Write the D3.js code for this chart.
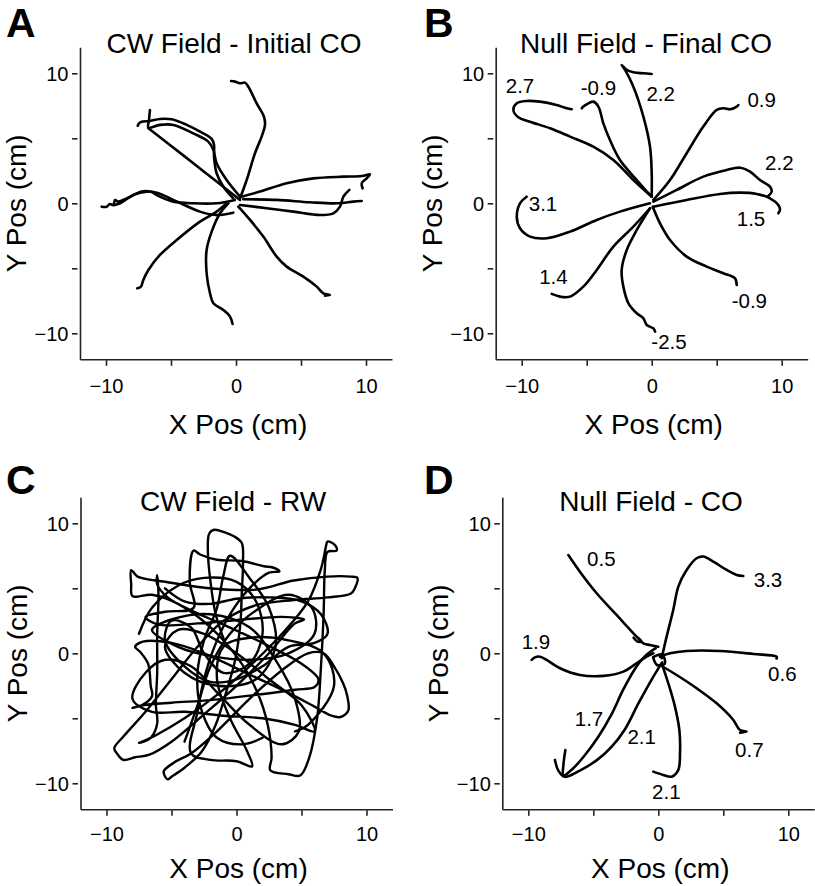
<!DOCTYPE html>
<html><head><meta charset="utf-8">
<script src="https://cdn.jsdelivr.net/npm/d3@7"></script>
<style>
body{margin:0;background:#fff}
svg text{font-family:"Liberation Sans",Arial,Helvetica,sans-serif;fill:#000}
</style>
</head><body>
<svg id="chart" width="815" height="886"></svg>
<script>
// ---------- DATA (cm) ----------
const tickValues = [-10, -5, 0, 5, 10];
const tickText = {"-10": "\u221210", "0": "0", "10": "10"};
const axisDomain = [-12, 12];

const panelLetters = ["A", "B", "C", "D"];
const panelTitles = ["CW Field - Initial CO", "Null Field - Final CO", "CW Field - RW", "Null Field - CO"];

// Panel A: CW field, initial center-out
const trajA = [
 [[0.31,0.38],[0.82,1.79],[1.46,3.85],[1.97,5.13],[2.23,6.03],[2.15,6.67],[1.59,7.69],[0.95,8.97],[0.69,9.28],[0.31,9.23],[-0.08,9.36],[-0.38,9.41]],
 [[-0.21,0.38],[-0.97,1.28],[-1.49,2.31],[-1.69,3.59],[-1.69,4.49],[-1.87,4.95],[-2.77,5.51],[-3.79,6.03],[-4.95,6.46],[-5.85,6.49],[-6.62,6.33],[-7.26,6.28],[-7.46,6.15],[-7.56,5.97]],
 [[0.31,0.51],[-0.72,1.79],[-1.49,3.08],[-1.74,4.10],[-2.13,4.74],[-3.28,5.38],[-4.82,6.03],[-5.85,6.03],[-6.74,5.82],[-6.69,6.41],[-6.62,7.18]],
 [[0.31,0.26],[-1.49,1.67],[-3.28,3.08],[-5.08,4.49],[-6.74,5.77]],
 [[-0.08,0.26],[-1.49,0.0],[-3.28,0.0],[-4.82,0.13],[-5.85,0.51],[-6.62,0.9],[-7.26,0.9],[-8.41,0.38],[-9.05,0.13],[-9.3,0.25],[-9.44,-0.13],[-9.7,-0.05],[-9.95,-0.26],[-10.33,-0.26]],
 [[-0.21,-0.72],[-1.49,-0.9],[-2.77,-0.64],[-4.82,0.26],[-6.1,0.82],[-6.87,0.9],[-7.9,0.64],[-8.92,0.0],[-9.4,-0.15]],
 [[-0.72,0.0],[-1.49,-0.64],[-2.77,-1.41],[-4.56,-2.82],[-5.85,-3.97],[-6.74,-5.13],[-7.13,-5.9],[-7.31,-6.41],[-7.59,-6.54]],
 [[-0.59,0.0],[-1.23,-0.77],[-1.87,-2.18],[-2.26,-3.59],[-2.26,-5.38],[-2.0,-6.92],[-1.74,-7.69],[-0.97,-8.21],[-0.46,-8.72],[-0.26,-9.28]],
 [[0.18,-0.26],[1.08,-1.28],[2.1,-2.56],[3.13,-4.1],[3.9,-4.87],[5.18,-5.64],[6.21,-6.41],[6.72,-6.92],[7.23,-7.05],[6.85,-7.1]],
 [[0.44,0.51],[1.85,0.9],[3.9,1.54],[5.95,1.92],[8.26,2.05],[9.67,2.1],[10.31,2.23],[10.05,1.92],[9.67,1.54],[9.74,1.15]],
 [[0.56,0.31],[3.13,0.26],[5.69,0.08],[7.74,0.0],[9.03,0.13],[9.67,0.18]],
 [[0.31,-0.13],[2.36,-0.38],[4.41,-0.64],[6.46,-0.9],[7.49,-0.77],[8.0,-0.26],[8.26,0.51],[8.72,1.03]]
];

// Panel B: Null field, final center-out
const trajB = [
 [[0,0.51],[-1.41,1.79],[-2.95,3.33],[-4.49,4.36],[-6.28,5.13],[-7.82,5.77],[-9.36,6.28],[-10.26,6.62],[-10.64,7.18],[-10.38,7.69],[-9.62,7.87],[-8.59,7.82],[-7.31,7.56],[-6.54,7.31],[-6.15,7.23]],
 [[-0.13,0.64],[-1.15,1.79],[-2.44,3.33],[-3.21,4.87],[-3.72,6.15],[-4.1,7.44],[-4.49,7.82],[-4.87,7.69],[-5.26,7.44],[-5.38,7.31]],
 [[0,0.51],[0,2.31],[-0.13,4.36],[-0.64,6.67],[-1.41,8.97],[-2.05,10.26],[-2.31,10.64],[-1.92,10.26],[-1.41,10.08],[-0.64,10.0],[0,9.95]],
 [[0.13,0.26],[1.41,1.79],[2.69,3.85],[3.97,5.9],[5.0,7.18],[5.51,7.31],[6.03,7.23],[6.54,7.44],[6.67,7.56]],
 [[0.13,0.13],[1.92,1.03],[3.97,2.05],[5.77,2.56],[6.79,2.74],[7.56,2.44],[8.33,1.79],[9.1,1.28],[9.23,0.9],[8.97,0.56]],
 [[0.13,-0.26],[2.69,0.26],[5.26,0.72],[6.79,0.82],[8.08,0.72],[9.1,0.38],[9.74,-0.13],[9.87,-0.51],[9.74,-0.77]],
 [[0.08,-0.26],[0.64,-1.54],[1.41,-2.82],[2.69,-4.1],[4.23,-4.87],[5.51,-5.38],[6.41,-5.77],[6.54,-6.28]],
 [[-0.13,-0.38],[-1.15,-2.05],[-1.92,-3.59],[-2.31,-5.13],[-2.18,-6.41],[-1.79,-7.69],[-1.15,-8.46],[-0.64,-8.85],[-0.38,-9.36],[0.13,-9.62],[0.26,-9.87]],
 [[-0.13,-0.38],[-1.41,-1.79],[-2.95,-3.33],[-4.23,-5.13],[-5.26,-6.41],[-6.28,-7.18],[-7.05,-7.18],[-7.69,-6.97]],
 [[-0.13,0],[-2.44,-0.64],[-4.23,-1.28],[-6.28,-2.18],[-8.08,-2.69],[-9.36,-2.56],[-10.13,-1.92],[-10.38,-1.03],[-10.13,0],[-9.62,0.51]]
];
const labelsB = [
 {t:"2.7", x:-10.13, y:9.05}, {t:"-0.9", x:-4.1, y:8.92}, {t:"2.2", x:0.69, y:8.46},
 {t:"0.9", x:8.46, y:8.0}, {t:"2.2", x:9.82, y:3.13}, {t:"1.5", x:7.64, y:-1.21},
 {t:"-0.9", x:7.51, y:-7.51}, {t:"-2.5", x:1.33, y:-10.64}, {t:"1.4", x:-7.56, y:-5.64},
 {t:"3.1", x:-8.36, y:-0.05}
];

// Panel C: CW field, random walk
const trajC = [
 [[-0.8,0.6],[-1.6,3.0],[-2.0,5.5],[-2.2,7.8],[-2.1,9.2],[-1.7,9.5],[-0.9,9.3],[-0.2,9.0],[0.4,8.5],[0.5,7.0],[0.4,4.5],[0.3,2.3],[-0.1,-0.5],[-0.8,-3.0],[-1.6,-5.5],[-2.7,-7.6],[-4.0,-8.8],[-5.0,-9.5],[-5.3,-9.7],[-5.6,-9.1],[-4.8,-8.4],[-3.5,-7.7],[-1.5,-6.0],[1.0,-3.5],[3.5,-1.3],[5.5,0.0],[6.7,0.0],[7.5,-1.0],[8.2,-2.3],[8.5,-3.2],[8.6,-4.4],[8.0,-4.9],[7.3,-4.8],[6.0,-4.1],[3.5,-2.8],[0.5,-1.4],[-2.5,0.0],[-5.0,0.8],[-7.2,0.9],[-7.8,0.5],[-7.4,0.1],[-6.8,-0.8],[-6.6,-2.5],[-6.5,-3.3],[-7.3,-4.0],[-8.0,-4.2],[-7.2,-4.0],[-5.0,-3.8],[-2.0,-3.6],[1.5,-3.2],[4.5,-2.8],[6.0,-2.6],[6.3,-2.0],[5.0,-0.8],[2.0,0.8],[-1.0,2.2],[-3.5,3.3],[-5.3,4.3],[-6.1,5.3],[-6.1,6.0],[-6.0,4.5],[-6.1,1.5],[-6.1,-1.5],[-6.2,-4.0],[-6.1,-5.4],[-6.6,-6.5],[-7.5,-6.9],[-6.2,-6.3],[-4.0,-5.0],[-1.5,-3.2],[1.0,-1.0],[3.5,1.5],[5.5,4.0],[6.5,6.5],[6.9,8.3],[7.0,8.6],[7.6,8.3],[7.7,7.9],[7.0,7.8],[6.8,6.5],[6.7,3.0],[6.5,-1.0],[6.2,-5.0],[5.6,-8.0],[4.9,-9.4],[4.0,-9.3],[2.6,-9.0],[2.7,-8.0],[2.4,-5.5],[1.6,-3.0],[0.2,-0.5],[-2.0,2.0],[-4.5,3.8],[-6.5,4.5],[-8.0,4.4],[-8.1,5.3],[-8.1,6.4],[-7.6,5.9],[-5.5,5.5],[-2.0,5.0],[1.5,4.9],[4.4,5.6],[7.0,5.9],[8.8,5.9],[9.3,5.8],[9.1,5.0],[8.8,4.6],[7.0,4.3],[4.4,4.1],[1.5,3.7],[-1.0,2.5],[-3.0,0.5],[-5.0,-2.0],[-7.0,-4.5],[-8.7,-6.4],[-9.4,-7.3],[-9.2,-7.7],[-8.7,-8.2],[-7.8,-8.0],[-6.7,-7.8],[-5.0,-6.8],[-2.5,-4.7],[0.0,-2.5],[2.5,0.0],[4.5,2.3],[5.2,2.6],[3.5,2.8],[0.5,2.6],[-3.0,2.3],[-6.0,2.2],[-7.0,2.8],[-5.5,3.2],[-3.3,3.5],[-3.6,5.5],[-3.3,7.9],[-2.8,7.6],[-1.5,7.2],[0.4,7.1],[2.1,6.7],[2.8,6.6],[3.3,6.3],[2.5,6.2],[1.0,5.0],[-0.5,3.0],[-1.7,0.5],[-2.5,-2.0],[-3.0,-4.5],[-3.5,-7.7],[-2.0,-8.2],[0.0,-8.3],[1.2,-8.7],[0.8,-7.5],[-0.5,-5.0],[-1.5,-2.0],[-1.0,0.5],[1.0,1.2],[4.0,1.0],[6.7,0.0],[7.5,-2.5],[5.5,-5.5],[4.5,-6.0]],
 [[-4.0,-6.8],[-3.0,-4.0],[-2.0,-1.0],[-0.5,1.5],[1.5,3.3],[4.0,4.5],[5.8,3.5],[6.0,1.5],[4.0,0.0],[1.0,-0.5],[-2.0,-0.2],[-4.5,0.5],[-6.5,1.8],[-5.0,2.6],[-2.0,3.0],[1.0,2.0],[3.0,-0.5],[4.5,-3.5],[4.8,-6.0],[3.5,-7.0],[1.0,-5.5],[-1.5,-3.0],[-3.5,-1.0],[-5.5,-0.5],[-7.0,-1.5],[-8.0,-3.5],[-6.5,-4.5],[-4.0,-4.5],[-1.0,-4.8],[2.0,-5.0],[4.5,-5.5],[6.0,-6.0],[5.0,-4.0],[2.5,-2.0],[0.0,0.0],[-2.5,1.5],[-4.5,1.8],[-5.5,0.5],[-4.0,-1.5],[-1.5,-2.5],[1.5,-2.0],[3.0,0.5],[2.5,3.5],[1.0,5.8],[-0.5,7.5],[-1.0,6.0],[-1.5,3.5],[-2.5,1.0],[-3.0,-1.5],[-2.8,-4.0],[-1.5,-6.5],[0.5,-7.0],[2.0,-6.5]],
 [[-5.5,5.0],[-4.0,4.0],[-2.0,3.8],[0.0,4.2],[2.5,4.3],[5.0,4.0],[6.5,3.0],[7.0,1.5],[6.0,0.8],[4.0,0.5],[2.0,-1.0],[0.0,-2.0],[-2.0,-2.2],[-4.0,-1.0],[-5.5,1.0],[-5.0,2.5],[-3.5,2.0],[-2.5,0.0],[-1.0,-1.5],[1.0,-0.8],[2.0,1.5],[1.5,4.0],[0.0,5.5],[-2.5,5.8],[-4.5,5.2],[-6.5,3.5],[-7.5,1.5]]
];

// Panel D: Null field, center-out
const trajD = [
 [[0,0.51],[-0.64,0.64],[-1.15,0.77],[-1.67,1.28],[-3.21,2.95],[-4.74,4.62],[-6.03,6.28],[-6.92,7.56]],
 [[-1.9,1.2],[-1.6,0.9],[-1.3,0.9],[-1.5,1.15]],
 [[0.26,-0.38],[0.64,1.28],[1.15,3.33],[1.54,5.13],[2.18,6.41],[2.95,7.31],[3.46,7.44],[4.23,7.05],[5.26,6.41],[6.03,6.03],[6.54,5.95]],
 [[-0.38,0],[-0.9,-0.26],[-1.67,-0.77],[-2.69,-1.41],[-4.23,-1.74],[-6.03,-1.67],[-7.56,-1.15],[-8.59,-0.51],[-9.1,-0.26],[-9.49,-0.31],[-9.74,-0.51]],
 [[0.13,-0.26],[0.9,0],[2.18,0.18],[4.74,0.18],[7.31,-0.05],[9.1,-0.26],[9.1,-0.4]],
 [[0.13,-0.9],[1.41,-1.67],[2.95,-2.69],[4.49,-3.85],[5.77,-5.13],[6.28,-5.9],[6.79,-6.03],[6.3,-6.1]],
 [[0.26,-0.77],[0.77,-2.31],[1.28,-4.1],[1.62,-5.9],[1.67,-7.69],[1.54,-8.97],[1.03,-9.49],[0.38,-9.36],[-0.38,-9.1]],
 [[-0.2,0.4],[-1.0,-0.2],[-1.8,-1.2],[-2.7,-2.8],[-3.6,-4.7],[-4.6,-6.4],[-5.7,-7.9],[-6.6,-8.9],[-7.3,-9.4],[-7.3,-8.6],[-7.15,-7.45]],
 [[0.3,-0.7],[-0.5,-2.0],[-1.5,-3.8],[-2.6,-5.9],[-3.6,-7.2],[-4.7,-8.2],[-6.0,-9.0],[-7.2,-9.5],[-7.7,-9.0],[-7.95,-8.2]],
 [[-0.4,-0.3],[0.3,-0.1],[0.5,-0.8],[-0.1,-0.9],[-0.4,-0.3]]
];
const labelsD = [
 {t:"0.5", x:-4.38, y:7.31}, {t:"3.3", x:8.44, y:5.64}, {t:"1.9", x:-9.41, y:0.9},
 {t:"0.6", x:9.54, y:-1.56}, {t:"1.7", x:-5.33, y:-5.0}, {t:"2.1", x:-1.28, y:-6.41},
 {t:"0.7", x:7.0, y:-7.38}, {t:"2.1", x:0.62, y:-10.64}
];

const trajectories = [trajA, trajB, trajC, trajD];
const labels = [null, labelsB, null, labelsD];

// ---------- LAYOUT ----------
const layout = [
 {cx:236,   cy:203.3, letterX:6,   letterY:37,  titleX:234, titleY:53,  yLabX:26,  xTickY:34,  xLabY:434},
 {cx:651.7, cy:203.3, letterX:424, letterY:37,  titleX:646, titleY:53,  yLabX:442, xTickY:34,  xLabY:434},
 {cx:236.5, cy:653.3, letterX:6,   letterY:494, titleX:233, titleY:511, yLabX:27,  xTickY:31.5,xLabY:878},
 {cx:658.3, cy:653.3, letterX:424, letterY:494, titleX:651, titleY:511, yLabX:448, xTickY:31.5,xLabY:878}
];
const half = 156; // px for 12 cm

const svg = d3.select("#chart");
const line = d3.line().curve(d3.curveCatmullRom.alpha(0.5));

layout.forEach((L, i) => {
  const x = d3.scaleLinear().domain(axisDomain).range([L.cx - half, L.cx + half]);
  const y = d3.scaleLinear().domain(axisDomain).range([L.cy + half, L.cy - half]);
  const g = svg.append("g");

  const fmt = d => tickText[String(d)] || "";
  const yAxis = g.append("g").attr("transform", `translate(${x.range()[0]},0)`)
    .call(d3.axisLeft(y).tickValues(tickValues).tickSizeOuter(0).tickFormat(fmt));
  const xAxis = g.append("g").attr("transform", `translate(0,${y.range()[0]})`)
    .call(d3.axisBottom(x).tickValues(tickValues).tickSizeOuter(0).tickFormat(fmt));
  [yAxis, xAxis].forEach(a => {
    a.select(".domain").attr("stroke", "#222").attr("stroke-width", 1.6);
    a.selectAll(".tick line").attr("stroke", "#222").attr("stroke-width", 1.6);
    a.selectAll(".tick text").style("font-size", "20px").attr("fill", "#000");
  });
  yAxis.selectAll(".tick line").attr("x1", -2.5).attr("x2", -8);
  yAxis.selectAll(".tick text").attr("x", -11.5).attr("dy", "0.35em");
  xAxis.selectAll(".tick line").attr("y1", 1).attr("y2", 6.5);
  xAxis.selectAll(".tick text").attr("y", L.xTickY).attr("dy", 0);

  g.append("g").selectAll("path").data(trajectories[i]).join("path")
    .attr("d", d => line(d.map(p => [x(p[0]), y(p[1])])))
    .attr("fill", "none").attr("stroke", "#000")
    .attr("stroke-width", i === 2 ? 2.4 : 2.6)
    .attr("stroke-linecap", "round").attr("stroke-linejoin", "round");

  if (labels[i]) {
    g.append("g").selectAll("text").data(labels[i]).join("text")
      .attr("x", d => x(d.x)).attr("y", d => y(d.y)).attr("dy", "0.36em")
      .attr("text-anchor", "middle").style("font-size", "20.5px").text(d => d.t);
  }

  g.append("text").attr("x", L.titleX).attr("y", L.titleY).attr("text-anchor", "middle")
    .style("font-size", "28px").text(panelTitles[i]);
  g.append("text").attr("x", L.letterX).attr("y", L.letterY)
    .style("font-size", "41px").style("font-weight", "bold").text(panelLetters[i]);
  g.append("text").attr("x", L.cx + 2).attr("y", L.xLabY).attr("text-anchor", "middle")
    .style("font-size", "28px").text("X Pos (cm)");
  g.append("text").attr("transform", `translate(${L.yLabX},${L.cy}) rotate(-90)`)
    .attr("text-anchor", "middle").style("font-size", "28px").text("Y Pos (cm)");
});
</script>
</body></html>
